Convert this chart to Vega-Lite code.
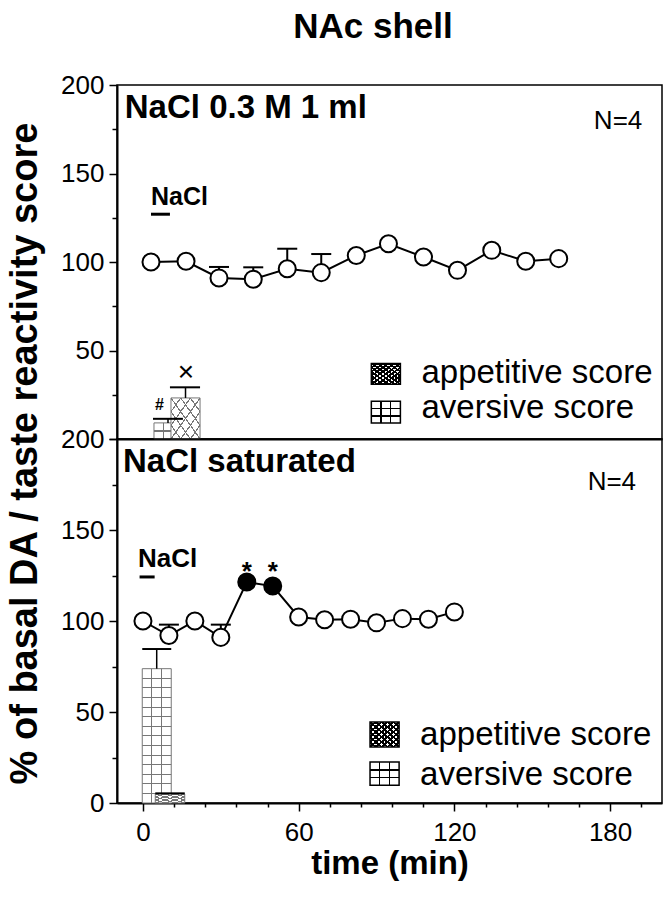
{
"$schema": "https://vega.github.io/schema/vega-lite/v6.json",
"padding": {"left": 5, "top": 10, "right": 2, "bottom": 10},
"title": {"text": "NAc shell", "fontSize": 35, "fontWeight": "bold", "font": "Liberation Sans", "color": "black", "anchor": "middle", "offset": 26, "dx": 39},
"config": {"font": "Liberation Sans", "view": {"stroke": "black", "strokeWidth": 1.5}, "axis": {"domainColor": "black", "tickColor": "black", "labelColor": "black", "titleColor": "black", "grid": false, "labelFont": "Liberation Sans", "titleFont": "Liberation Sans"}},
"datasets": {
 "t_pts": [{"x":3.1,"y":100},{"x":16.6,"y":100.4},{"x":29.3,"y":91},{"x":42.5,"y":90.3},{"x":55.6,"y":96.2},{"x":68.7,"y":94},{"x":82.2,"y":103.7},{"x":94.6,"y":110.3},{"x":108.1,"y":102.8},{"x":121.2,"y":95.3},{"x":134.4,"y":106.6},{"x":147.5,"y":100.4},{"x":160.2,"y":101.9}],
 "t_err": [{"x":29.3,"y":97.2,"y0":91},{"x":42.5,"y":97,"y0":90.3},{"x":55.6,"y":107.5,"y0":96.2},{"x":68.7,"y":104.5,"y0":94}],
 "t_av": [{"x":4.25,"x2":15.06,"y":9.1,"y2":0}],
 "t_ap": [{"x":10.8,"x2":22.0,"y":23.2,"y2":0}],
 "t_bstem": [{"x":9.65,"y":11.4,"y2":9.1},{"x":16.4,"y":29.2,"y2":23.2}],
 "t_bcap": [{"x":3.86,"x2":15.4,"y":11.4},{"x":10.4,"x2":22.0,"y":29.2}],
 "t_hash": [{"x":6.4,"y":16.5,"label":"#"}],
 "t_times": [{"x":16.6,"y":32.8,"label":"×"}],
 "t_nbar": [{"x":3.1,"x2":10.4,"y":127}],
 "t_ntxt": [{"x":3.1,"y":132.1,"label":"NaCl"}],
 "t_title": [{"x":-7,"y":181.6,"label":"NaCl 0.3 M 1 ml"}],
 "t_n": [{"x":192.4,"y":175,"label":"N=4"}],
 "t_leg_ap": [{"x":88.0,"x2":99.2,"y":42.7,"y2":30.9}],
 "t_leg_av": [{"x":88.0,"x2":99.2,"y":21.3,"y2":9.0}],
 "t_leg_txt": [{"x":107.3,"y":31.6,"label":"appetitive score"},{"x":107.3,"y":11.9,"label":"aversive score"}],
 "b_pts": [{"x":0,"y":100,"sig":"n"},{"x":10,"y":92,"sig":"n"},{"x":20,"y":100,"sig":"n"},{"x":30,"y":91,"sig":"n"},{"x":40,"y":121.4,"sig":"y"},{"x":50,"y":119.2,"sig":"y"},{"x":60,"y":102.2,"sig":"n"},{"x":70,"y":100.7,"sig":"n"},{"x":80,"y":101,"sig":"n"},{"x":90,"y":99,"sig":"n"},{"x":100,"y":101.3,"sig":"n"},{"x":110,"y":101,"sig":"n"},{"x":120,"y":105,"sig":"n"}],
 "b_err": [{"x":10,"y":98,"y0":92},{"x":30,"y":98,"y0":91}],
 "b_av": [{"x":-0.27,"x2":10.9,"y":73.8,"y2":0}],
 "b_ap": [{"x":4.75,"x2":16.1,"y":5.0,"y2":0}],
 "b_bstem": [{"x":5.3,"y":84.6,"y2":73.8}],
 "b_bcap": [{"x":-0.27,"x2":10.9,"y":84.6},{"x":4.75,"x2":16.1,"y":5.3}],
 "b_ast": [{"x":40,"y":122.5,"label":"*"},{"x":50,"y":122.5,"label":"*"}],
 "b_nbar": [{"x":-1.3,"x2":4.5,"y":124.2}],
 "b_ntxt": [{"x":-1.9,"y":129.7,"label":"NaCl"}],
 "b_title": [{"x":-7.7,"y":181.9,"label":"NaCl saturated"}],
 "b_n": [{"x":190,"y":171.8,"label":"N=4"}],
 "b_leg_ap": [{"x":87.5,"x2":98.7,"y":44.5,"y2":30.8}],
 "b_leg_av": [{"x":87.5,"x2":98.7,"y":22.5,"y2":9.7}],
 "b_leg_txt": [{"x":106.8,"y":31.7,"label":"appetitive score"},{"x":106.8,"y":10,"label":"aversive score"}]
},
"spacing": 0,
"bounds": "flush",
"vconcat": [
{
 "width": 545, "height": 354,
 "encoding": {
  "x": {"field":"x","type":"quantitative","scale":{"domain":[-10,200],"nice":false,"zero":false},"axis":{"labels":false,"ticks":false,"domainWidth":2,"title":null}},
  "y": {"field":"y","type":"quantitative","scale":{"domain":[0,200],"nice":false,"zero":false},"axis":{"values":[0,25,50,75,100,125,150,175,200],"tickSize":{"condition":{"test":"datum.value % 50 === 0","value":8},"value":5},"labelExpr":"(datum.value % 50 === 0 && datum.value > 0) ? datum.label : ''","labelFontSize":26,"labelPadding":5,"title":null,"domainWidth":2,"tickWidth":1.5,"labelOverlap":false}}
 },
 "layer": [
  {"data":{"name":"t_av"},"mark":{"type":"rect","fill":"white","stroke":"#777","strokeWidth":1},"encoding":{"x2":{"field":"x2"},"y2":{"field":"y2"}}},
  {"data":{"name":"t_av"},"mark":{"type":"rect","fill":{"gradient":"linear","x1":0,"y1":0,"x2":1,"y2":0,"stops":[{"offset":0,"color":"rgba(255,255,255,0)"},{"offset":0.315,"color":"rgba(255,255,255,0)"},{"offset":0.315,"color":"#777"},{"offset":0.351,"color":"#777"},{"offset":0.351,"color":"rgba(255,255,255,0)"},{"offset":0.649,"color":"rgba(255,255,255,0)"},{"offset":0.649,"color":"#777"},{"offset":0.685,"color":"#777"},{"offset":0.685,"color":"rgba(255,255,255,0)"},{"offset":1,"color":"rgba(255,255,255,0)"}]}},"encoding":{"x2":{"field":"x2"},"y2":{"field":"y2"}}},
  {"data":{"name":"t_av"},"mark":{"type":"rect","fill":{"gradient":"linear","x1":0,"y1":0,"x2":0,"y2":1,"stops":[{"offset":0,"color":"rgba(255,255,255,0)"},{"offset":0.46,"color":"rgba(255,255,255,0)"},{"offset":0.46,"color":"#777"},{"offset":0.54,"color":"#777"},{"offset":0.54,"color":"rgba(255,255,255,0)"},{"offset":1,"color":"rgba(255,255,255,0)"}]}},"encoding":{"x2":{"field":"x2"},"y2":{"field":"y2"}}},
  {"data":{"name":"t_ap"},"mark":{"type":"rect","fill":"white","stroke":"#777","strokeWidth":1},"encoding":{"x2":{"field":"x2"},"y2":{"field":"y2"}}},
  {"data":{"name":"t_ap"},"mark":{"type":"rect","fill":{"gradient":"linear","x1":0,"y1":0,"x2":1,"y2":1,"stops":[{"offset":0,"color":"rgba(255,255,255,0)"},{"offset":0.155,"color":"rgba(255,255,255,0)"},{"offset":0.155,"color":"#777"},{"offset":0.179,"color":"#777"},{"offset":0.179,"color":"rgba(255,255,255,0)"},{"offset":0.321,"color":"rgba(255,255,255,0)"},{"offset":0.321,"color":"#777"},{"offset":0.345,"color":"#777"},{"offset":0.345,"color":"rgba(255,255,255,0)"},{"offset":0.488,"color":"rgba(255,255,255,0)"},{"offset":0.488,"color":"#777"},{"offset":0.512,"color":"#777"},{"offset":0.512,"color":"rgba(255,255,255,0)"},{"offset":0.655,"color":"rgba(255,255,255,0)"},{"offset":0.655,"color":"#777"},{"offset":0.679,"color":"#777"},{"offset":0.679,"color":"rgba(255,255,255,0)"},{"offset":0.821,"color":"rgba(255,255,255,0)"},{"offset":0.821,"color":"#777"},{"offset":0.845,"color":"#777"},{"offset":0.845,"color":"rgba(255,255,255,0)"},{"offset":1,"color":"rgba(255,255,255,0)"}]}},"encoding":{"x2":{"field":"x2"},"y2":{"field":"y2"}}},
  {"data":{"name":"t_ap"},"mark":{"type":"rect","fill":{"gradient":"linear","x1":1,"y1":0,"x2":0,"y2":1,"stops":[{"offset":0,"color":"rgba(255,255,255,0)"},{"offset":0.155,"color":"rgba(255,255,255,0)"},{"offset":0.155,"color":"#777"},{"offset":0.179,"color":"#777"},{"offset":0.179,"color":"rgba(255,255,255,0)"},{"offset":0.321,"color":"rgba(255,255,255,0)"},{"offset":0.321,"color":"#777"},{"offset":0.345,"color":"#777"},{"offset":0.345,"color":"rgba(255,255,255,0)"},{"offset":0.488,"color":"rgba(255,255,255,0)"},{"offset":0.488,"color":"#777"},{"offset":0.512,"color":"#777"},{"offset":0.512,"color":"rgba(255,255,255,0)"},{"offset":0.655,"color":"rgba(255,255,255,0)"},{"offset":0.655,"color":"#777"},{"offset":0.679,"color":"#777"},{"offset":0.679,"color":"rgba(255,255,255,0)"},{"offset":0.821,"color":"rgba(255,255,255,0)"},{"offset":0.821,"color":"#777"},{"offset":0.845,"color":"#777"},{"offset":0.845,"color":"rgba(255,255,255,0)"},{"offset":1,"color":"rgba(255,255,255,0)"}]}},"encoding":{"x2":{"field":"x2"},"y2":{"field":"y2"}}},
  {"data":{"name":"t_bstem"},"mark":{"type":"rule","color":"black","strokeWidth":1.5},"encoding":{"y2":{"field":"y2"}}},
  {"data":{"name":"t_bcap"},"mark":{"type":"rule","color":"black","strokeWidth":2},"encoding":{"x2":{"field":"x2"}}},
  {"data":{"name":"t_hash"},"mark":{"type":"text","align":"center","baseline":"alphabetic","fontSize":16,"fontWeight":"bold","font":"Liberation Sans","color":"black"},"encoding":{"text":{"field":"label"}}},
  {"data":{"name":"t_times"},"mark":{"type":"text","align":"center","baseline":"alphabetic","fontSize":28,"font":"Liberation Sans","color":"black"},"encoding":{"text":{"field":"label"}}},
  {"data":{"name":"t_err"},"mark":{"type":"rule","color":"black","strokeWidth":2},"encoding":{"y2":{"field":"y0"}}},
  {"data":{"name":"t_err"},"mark":{"type":"tick","orient":"horizontal","size":20,"thickness":2,"color":"black","opacity":1}},
  {"data":{"name":"t_pts"},"mark":{"type":"line","color":"black","strokeWidth":2}},
  {"data":{"name":"t_pts"},"mark":{"type":"point","shape":"circle","filled":true,"fill":"white","stroke":"black","strokeWidth":2,"size":290,"opacity":1}},
  {"data":{"name":"t_nbar"},"mark":{"type":"rule","color":"black","strokeWidth":3},"encoding":{"x2":{"field":"x2"}}},
  {"data":{"name":"t_ntxt"},"mark":{"type":"text","align":"left","baseline":"alphabetic","fontSize":25,"fontWeight":"bold","font":"Liberation Sans","color":"black"},"encoding":{"text":{"field":"label"}}},
  {"data":{"name":"t_title"},"mark":{"type":"text","align":"left","baseline":"alphabetic","fontSize":33,"fontWeight":"bold","font":"Liberation Sans","color":"black"},"encoding":{"text":{"field":"label"}}},
  {"data":{"name":"t_n"},"mark":{"type":"text","align":"right","baseline":"alphabetic","fontSize":26,"font":"Liberation Sans","color":"black"},"encoding":{"text":{"field":"label"}}},
  {"data":{"name":"t_leg_ap"},"mark":{"type":"rect","fill":"white","stroke":"black","strokeWidth":1.5},"encoding":{"x2":{"field":"x2"},"y2":{"field":"y2"}}},
  {"data":{"name":"t_leg_ap"},"mark":{"type":"rect","fill":{"gradient":"linear","x1":0,"y1":0,"x2":1,"y2":1,"stops":[{"offset":0,"color":"rgba(255,255,255,0)"},{"offset":0.075,"color":"rgba(255,255,255,0)"},{"offset":0.075,"color":"black"},{"offset":0.125,"color":"black"},{"offset":0.125,"color":"rgba(255,255,255,0)"},{"offset":0.175,"color":"rgba(255,255,255,0)"},{"offset":0.175,"color":"black"},{"offset":0.225,"color":"black"},{"offset":0.225,"color":"rgba(255,255,255,0)"},{"offset":0.275,"color":"rgba(255,255,255,0)"},{"offset":0.275,"color":"black"},{"offset":0.325,"color":"black"},{"offset":0.325,"color":"rgba(255,255,255,0)"},{"offset":0.375,"color":"rgba(255,255,255,0)"},{"offset":0.375,"color":"black"},{"offset":0.425,"color":"black"},{"offset":0.425,"color":"rgba(255,255,255,0)"},{"offset":0.475,"color":"rgba(255,255,255,0)"},{"offset":0.475,"color":"black"},{"offset":0.525,"color":"black"},{"offset":0.525,"color":"rgba(255,255,255,0)"},{"offset":0.575,"color":"rgba(255,255,255,0)"},{"offset":0.575,"color":"black"},{"offset":0.625,"color":"black"},{"offset":0.625,"color":"rgba(255,255,255,0)"},{"offset":0.675,"color":"rgba(255,255,255,0)"},{"offset":0.675,"color":"black"},{"offset":0.725,"color":"black"},{"offset":0.725,"color":"rgba(255,255,255,0)"},{"offset":0.775,"color":"rgba(255,255,255,0)"},{"offset":0.775,"color":"black"},{"offset":0.825,"color":"black"},{"offset":0.825,"color":"rgba(255,255,255,0)"},{"offset":0.875,"color":"rgba(255,255,255,0)"},{"offset":0.875,"color":"black"},{"offset":0.925,"color":"black"},{"offset":0.925,"color":"rgba(255,255,255,0)"},{"offset":1,"color":"rgba(255,255,255,0)"}]}},"encoding":{"x2":{"field":"x2"},"y2":{"field":"y2"}}},
  {"data":{"name":"t_leg_ap"},"mark":{"type":"rect","fill":{"gradient":"linear","x1":1,"y1":0,"x2":0,"y2":1,"stops":[{"offset":0,"color":"rgba(255,255,255,0)"},{"offset":0.075,"color":"rgba(255,255,255,0)"},{"offset":0.075,"color":"black"},{"offset":0.125,"color":"black"},{"offset":0.125,"color":"rgba(255,255,255,0)"},{"offset":0.175,"color":"rgba(255,255,255,0)"},{"offset":0.175,"color":"black"},{"offset":0.225,"color":"black"},{"offset":0.225,"color":"rgba(255,255,255,0)"},{"offset":0.275,"color":"rgba(255,255,255,0)"},{"offset":0.275,"color":"black"},{"offset":0.325,"color":"black"},{"offset":0.325,"color":"rgba(255,255,255,0)"},{"offset":0.375,"color":"rgba(255,255,255,0)"},{"offset":0.375,"color":"black"},{"offset":0.425,"color":"black"},{"offset":0.425,"color":"rgba(255,255,255,0)"},{"offset":0.475,"color":"rgba(255,255,255,0)"},{"offset":0.475,"color":"black"},{"offset":0.525,"color":"black"},{"offset":0.525,"color":"rgba(255,255,255,0)"},{"offset":0.575,"color":"rgba(255,255,255,0)"},{"offset":0.575,"color":"black"},{"offset":0.625,"color":"black"},{"offset":0.625,"color":"rgba(255,255,255,0)"},{"offset":0.675,"color":"rgba(255,255,255,0)"},{"offset":0.675,"color":"black"},{"offset":0.725,"color":"black"},{"offset":0.725,"color":"rgba(255,255,255,0)"},{"offset":0.775,"color":"rgba(255,255,255,0)"},{"offset":0.775,"color":"black"},{"offset":0.825,"color":"black"},{"offset":0.825,"color":"rgba(255,255,255,0)"},{"offset":0.875,"color":"rgba(255,255,255,0)"},{"offset":0.875,"color":"black"},{"offset":0.925,"color":"black"},{"offset":0.925,"color":"rgba(255,255,255,0)"},{"offset":1,"color":"rgba(255,255,255,0)"}]}},"encoding":{"x2":{"field":"x2"},"y2":{"field":"y2"}}},
  {"data":{"name":"t_leg_av"},"mark":{"type":"rect","fill":"white","stroke":"black","strokeWidth":1.5},"encoding":{"x2":{"field":"x2"},"y2":{"field":"y2"}}},
  {"data":{"name":"t_leg_av"},"mark":{"type":"rect","fill":{"gradient":"linear","x1":0,"y1":0,"x2":1,"y2":0,"stops":[{"offset":0,"color":"rgba(255,255,255,0)"},{"offset":0.307,"color":"rgba(255,255,255,0)"},{"offset":0.307,"color":"black"},{"offset":0.359,"color":"black"},{"offset":0.359,"color":"rgba(255,255,255,0)"},{"offset":0.641,"color":"rgba(255,255,255,0)"},{"offset":0.641,"color":"black"},{"offset":0.693,"color":"black"},{"offset":0.693,"color":"rgba(255,255,255,0)"},{"offset":1,"color":"rgba(255,255,255,0)"}]}},"encoding":{"x2":{"field":"x2"},"y2":{"field":"y2"}}},
  {"data":{"name":"t_leg_av"},"mark":{"type":"rect","fill":{"gradient":"linear","x1":0,"y1":0,"x2":0,"y2":1,"stops":[{"offset":0,"color":"rgba(255,255,255,0)"},{"offset":0.297,"color":"rgba(255,255,255,0)"},{"offset":0.297,"color":"black"},{"offset":0.369,"color":"black"},{"offset":0.369,"color":"rgba(255,255,255,0)"},{"offset":0.631,"color":"rgba(255,255,255,0)"},{"offset":0.631,"color":"black"},{"offset":0.703,"color":"black"},{"offset":0.703,"color":"rgba(255,255,255,0)"},{"offset":1,"color":"rgba(255,255,255,0)"}]}},"encoding":{"x2":{"field":"x2"},"y2":{"field":"y2"}}},
  {"data":{"name":"t_leg_txt"},"mark":{"type":"text","align":"left","baseline":"alphabetic","fontSize":33,"font":"Liberation Sans","color":"black"},"encoding":{"text":{"field":"label"}}}
 ]
},
{
 "width": 545, "height": 364,
 "encoding": {
  "x": {"field":"x","type":"quantitative","scale":{"domain":[-10,200],"nice":false,"zero":false},"axis":{"values":[0,12,24,36,48,60,72,84,96,108,120,132,144,156,168,180,192],"tickSize":{"condition":{"test":"datum.value % 60 === 0","value":8},"value":4},"labelExpr":"datum.value % 60 === 0 ? datum.label : ''","labelFontSize":26,"labelPadding":8,"labelOverlap":false,"title":"time (min)","titleFontSize":33,"titleFontWeight":"bold","titlePadding":2,"domainWidth":2,"tickWidth":1.5}},
  "y": {"field":"y","type":"quantitative","scale":{"domain":[0,200],"nice":false,"zero":false},"axis":{"values":[0,25,50,75,100,125,150,175,200],"tickSize":{"condition":{"test":"datum.value % 50 === 0","value":8},"value":5},"labelExpr":"datum.value % 50 === 0 ? datum.label : ''","labelFontSize":26,"labelPadding":5,"labelOverlap":false,"domainWidth":2,"tickWidth":1.5,"title":"% of basal DA /  taste reactivity score","titleFontSize":38,"titleFontWeight":"bold","titleAngle":-90,"titleAlign":"center","titleBaseline":"alphabetic","titleX":-81,"titleY":14}}
 },
 "layer": [
  {"data":{"name":"b_av"},"mark":{"type":"rect","fill":"white","stroke":"#777","strokeWidth":1},"encoding":{"x2":{"field":"x2"},"y2":{"field":"y2"}}},
  {"data":{"name":"b_av"},"mark":{"type":"rect","fill":{"gradient":"linear","x1":0,"y1":0,"x2":1,"y2":0,"stops":[{"offset":0,"color":"rgba(255,255,255,0)"},{"offset":0.315,"color":"rgba(255,255,255,0)"},{"offset":0.315,"color":"#777"},{"offset":0.351,"color":"#777"},{"offset":0.351,"color":"rgba(255,255,255,0)"},{"offset":0.649,"color":"rgba(255,255,255,0)"},{"offset":0.649,"color":"#777"},{"offset":0.685,"color":"#777"},{"offset":0.685,"color":"rgba(255,255,255,0)"},{"offset":1,"color":"rgba(255,255,255,0)"}]}},"encoding":{"x2":{"field":"x2"},"y2":{"field":"y2"}}},
  {"data":{"name":"b_av"},"mark":{"type":"rect","fill":{"gradient":"linear","x1":0,"y1":0,"x2":0,"y2":1,"stops":[{"offset":0,"color":"rgba(255,255,255,0)"},{"offset":0.0677,"color":"rgba(255,255,255,0)"},{"offset":0.0677,"color":"#777"},{"offset":0.0751,"color":"#777"},{"offset":0.0751,"color":"rgba(255,255,255,0)"},{"offset":0.1392,"color":"rgba(255,255,255,0)"},{"offset":0.1392,"color":"#777"},{"offset":0.1466,"color":"#777"},{"offset":0.1466,"color":"rgba(255,255,255,0)"},{"offset":0.2106,"color":"rgba(255,255,255,0)"},{"offset":0.2106,"color":"#777"},{"offset":0.218,"color":"#777"},{"offset":0.218,"color":"rgba(255,255,255,0)"},{"offset":0.282,"color":"rgba(255,255,255,0)"},{"offset":0.282,"color":"#777"},{"offset":0.2894,"color":"#777"},{"offset":0.2894,"color":"rgba(255,255,255,0)"},{"offset":0.3534,"color":"rgba(255,255,255,0)"},{"offset":0.3534,"color":"#777"},{"offset":0.3608,"color":"#777"},{"offset":0.3608,"color":"rgba(255,255,255,0)"},{"offset":0.4249,"color":"rgba(255,255,255,0)"},{"offset":0.4249,"color":"#777"},{"offset":0.4323,"color":"#777"},{"offset":0.4323,"color":"rgba(255,255,255,0)"},{"offset":0.4963,"color":"rgba(255,255,255,0)"},{"offset":0.4963,"color":"#777"},{"offset":0.5037,"color":"#777"},{"offset":0.5037,"color":"rgba(255,255,255,0)"},{"offset":0.5677,"color":"rgba(255,255,255,0)"},{"offset":0.5677,"color":"#777"},{"offset":0.5751,"color":"#777"},{"offset":0.5751,"color":"rgba(255,255,255,0)"},{"offset":0.6392,"color":"rgba(255,255,255,0)"},{"offset":0.6392,"color":"#777"},{"offset":0.6466,"color":"#777"},{"offset":0.6466,"color":"rgba(255,255,255,0)"},{"offset":0.7106,"color":"rgba(255,255,255,0)"},{"offset":0.7106,"color":"#777"},{"offset":0.718,"color":"#777"},{"offset":0.718,"color":"rgba(255,255,255,0)"},{"offset":0.782,"color":"rgba(255,255,255,0)"},{"offset":0.782,"color":"#777"},{"offset":0.7894,"color":"#777"},{"offset":0.7894,"color":"rgba(255,255,255,0)"},{"offset":0.8534,"color":"rgba(255,255,255,0)"},{"offset":0.8534,"color":"#777"},{"offset":0.8608,"color":"#777"},{"offset":0.8608,"color":"rgba(255,255,255,0)"},{"offset":0.9249,"color":"rgba(255,255,255,0)"},{"offset":0.9249,"color":"#777"},{"offset":0.9323,"color":"#777"},{"offset":0.9323,"color":"rgba(255,255,255,0)"},{"offset":1,"color":"rgba(255,255,255,0)"}]}},"encoding":{"x2":{"field":"x2"},"y2":{"field":"y2"}}},
  {"data":{"name":"b_ap"},"mark":{"type":"rect","fill":"white","stroke":"#777","strokeWidth":1},"encoding":{"x2":{"field":"x2"},"y2":{"field":"y2"}}},
  {"data":{"name":"b_ap"},"mark":{"type":"rect","fill":{"gradient":"linear","x1":0,"y1":0,"x2":1,"y2":1,"stops":[{"offset":0,"color":"rgba(255,255,255,0)"},{"offset":0.137,"color":"rgba(255,255,255,0)"},{"offset":0.137,"color":"#777"},{"offset":0.197,"color":"#777"},{"offset":0.197,"color":"rgba(255,255,255,0)"},{"offset":0.303,"color":"rgba(255,255,255,0)"},{"offset":0.303,"color":"#777"},{"offset":0.363,"color":"#777"},{"offset":0.363,"color":"rgba(255,255,255,0)"},{"offset":0.47,"color":"rgba(255,255,255,0)"},{"offset":0.47,"color":"#777"},{"offset":0.53,"color":"#777"},{"offset":0.53,"color":"rgba(255,255,255,0)"},{"offset":0.637,"color":"rgba(255,255,255,0)"},{"offset":0.637,"color":"#777"},{"offset":0.697,"color":"#777"},{"offset":0.697,"color":"rgba(255,255,255,0)"},{"offset":0.803,"color":"rgba(255,255,255,0)"},{"offset":0.803,"color":"#777"},{"offset":0.863,"color":"#777"},{"offset":0.863,"color":"rgba(255,255,255,0)"},{"offset":1,"color":"rgba(255,255,255,0)"}]}},"encoding":{"x2":{"field":"x2"},"y2":{"field":"y2"}}},
  {"data":{"name":"b_ap"},"mark":{"type":"rect","fill":{"gradient":"linear","x1":1,"y1":0,"x2":0,"y2":1,"stops":[{"offset":0,"color":"rgba(255,255,255,0)"},{"offset":0.137,"color":"rgba(255,255,255,0)"},{"offset":0.137,"color":"#777"},{"offset":0.197,"color":"#777"},{"offset":0.197,"color":"rgba(255,255,255,0)"},{"offset":0.303,"color":"rgba(255,255,255,0)"},{"offset":0.303,"color":"#777"},{"offset":0.363,"color":"#777"},{"offset":0.363,"color":"rgba(255,255,255,0)"},{"offset":0.47,"color":"rgba(255,255,255,0)"},{"offset":0.47,"color":"#777"},{"offset":0.53,"color":"#777"},{"offset":0.53,"color":"rgba(255,255,255,0)"},{"offset":0.637,"color":"rgba(255,255,255,0)"},{"offset":0.637,"color":"#777"},{"offset":0.697,"color":"#777"},{"offset":0.697,"color":"rgba(255,255,255,0)"},{"offset":0.803,"color":"rgba(255,255,255,0)"},{"offset":0.803,"color":"#777"},{"offset":0.863,"color":"#777"},{"offset":0.863,"color":"rgba(255,255,255,0)"},{"offset":1,"color":"rgba(255,255,255,0)"}]}},"encoding":{"x2":{"field":"x2"},"y2":{"field":"y2"}}},
  {"data":{"name":"b_bstem"},"mark":{"type":"rule","color":"black","strokeWidth":1.5},"encoding":{"y2":{"field":"y2"}}},
  {"data":{"name":"b_bcap"},"mark":{"type":"rule","color":"black","strokeWidth":2},"encoding":{"x2":{"field":"x2"}}},
  {"data":{"name":"b_err"},"mark":{"type":"rule","color":"black","strokeWidth":2},"encoding":{"y2":{"field":"y0"}}},
  {"data":{"name":"b_err"},"mark":{"type":"tick","orient":"horizontal","size":20,"thickness":2,"color":"black","opacity":1}},
  {"data":{"name":"b_pts"},"mark":{"type":"line","color":"black","strokeWidth":2}},
  {"data":{"name":"b_pts"},"mark":{"type":"point","shape":"circle","filled":true,"stroke":"black","strokeWidth":2,"size":290,"opacity":1},"encoding":{"fill":{"field":"sig","type":"nominal","scale":{"domain":["n","y"],"range":["white","black"]},"legend":null}}},
  {"data":{"name":"b_ast"},"mark":{"type":"text","align":"center","baseline":"alphabetic","fontSize":26,"fontWeight":"bold","font":"Liberation Sans","color":"black"},"encoding":{"text":{"field":"label"}}},
  {"data":{"name":"b_nbar"},"mark":{"type":"rule","color":"black","strokeWidth":3},"encoding":{"x2":{"field":"x2"}}},
  {"data":{"name":"b_ntxt"},"mark":{"type":"text","align":"left","baseline":"alphabetic","fontSize":26,"fontWeight":"bold","font":"Liberation Sans","color":"black"},"encoding":{"text":{"field":"label"}}},
  {"data":{"name":"b_title"},"mark":{"type":"text","align":"left","baseline":"alphabetic","fontSize":33,"fontWeight":"bold","font":"Liberation Sans","color":"black"},"encoding":{"text":{"field":"label"}}},
  {"data":{"name":"b_n"},"mark":{"type":"text","align":"right","baseline":"alphabetic","fontSize":26,"font":"Liberation Sans","color":"black"},"encoding":{"text":{"field":"label"}}},
  {"data":{"name":"b_leg_ap"},"mark":{"type":"rect","fill":"white","stroke":"black","strokeWidth":1.5},"encoding":{"x2":{"field":"x2"},"y2":{"field":"y2"}}},
  {"data":{"name":"b_leg_ap"},"mark":{"type":"rect","fill":{"gradient":"linear","x1":0,"y1":0,"x2":1,"y2":1,"stops":[{"offset":0,"color":"rgba(255,255,255,0)"},{"offset":0.075,"color":"rgba(255,255,255,0)"},{"offset":0.075,"color":"black"},{"offset":0.125,"color":"black"},{"offset":0.125,"color":"rgba(255,255,255,0)"},{"offset":0.175,"color":"rgba(255,255,255,0)"},{"offset":0.175,"color":"black"},{"offset":0.225,"color":"black"},{"offset":0.225,"color":"rgba(255,255,255,0)"},{"offset":0.275,"color":"rgba(255,255,255,0)"},{"offset":0.275,"color":"black"},{"offset":0.325,"color":"black"},{"offset":0.325,"color":"rgba(255,255,255,0)"},{"offset":0.375,"color":"rgba(255,255,255,0)"},{"offset":0.375,"color":"black"},{"offset":0.425,"color":"black"},{"offset":0.425,"color":"rgba(255,255,255,0)"},{"offset":0.475,"color":"rgba(255,255,255,0)"},{"offset":0.475,"color":"black"},{"offset":0.525,"color":"black"},{"offset":0.525,"color":"rgba(255,255,255,0)"},{"offset":0.575,"color":"rgba(255,255,255,0)"},{"offset":0.575,"color":"black"},{"offset":0.625,"color":"black"},{"offset":0.625,"color":"rgba(255,255,255,0)"},{"offset":0.675,"color":"rgba(255,255,255,0)"},{"offset":0.675,"color":"black"},{"offset":0.725,"color":"black"},{"offset":0.725,"color":"rgba(255,255,255,0)"},{"offset":0.775,"color":"rgba(255,255,255,0)"},{"offset":0.775,"color":"black"},{"offset":0.825,"color":"black"},{"offset":0.825,"color":"rgba(255,255,255,0)"},{"offset":0.875,"color":"rgba(255,255,255,0)"},{"offset":0.875,"color":"black"},{"offset":0.925,"color":"black"},{"offset":0.925,"color":"rgba(255,255,255,0)"},{"offset":1,"color":"rgba(255,255,255,0)"}]}},"encoding":{"x2":{"field":"x2"},"y2":{"field":"y2"}}},
  {"data":{"name":"b_leg_ap"},"mark":{"type":"rect","fill":{"gradient":"linear","x1":1,"y1":0,"x2":0,"y2":1,"stops":[{"offset":0,"color":"rgba(255,255,255,0)"},{"offset":0.075,"color":"rgba(255,255,255,0)"},{"offset":0.075,"color":"black"},{"offset":0.125,"color":"black"},{"offset":0.125,"color":"rgba(255,255,255,0)"},{"offset":0.175,"color":"rgba(255,255,255,0)"},{"offset":0.175,"color":"black"},{"offset":0.225,"color":"black"},{"offset":0.225,"color":"rgba(255,255,255,0)"},{"offset":0.275,"color":"rgba(255,255,255,0)"},{"offset":0.275,"color":"black"},{"offset":0.325,"color":"black"},{"offset":0.325,"color":"rgba(255,255,255,0)"},{"offset":0.375,"color":"rgba(255,255,255,0)"},{"offset":0.375,"color":"black"},{"offset":0.425,"color":"black"},{"offset":0.425,"color":"rgba(255,255,255,0)"},{"offset":0.475,"color":"rgba(255,255,255,0)"},{"offset":0.475,"color":"black"},{"offset":0.525,"color":"black"},{"offset":0.525,"color":"rgba(255,255,255,0)"},{"offset":0.575,"color":"rgba(255,255,255,0)"},{"offset":0.575,"color":"black"},{"offset":0.625,"color":"black"},{"offset":0.625,"color":"rgba(255,255,255,0)"},{"offset":0.675,"color":"rgba(255,255,255,0)"},{"offset":0.675,"color":"black"},{"offset":0.725,"color":"black"},{"offset":0.725,"color":"rgba(255,255,255,0)"},{"offset":0.775,"color":"rgba(255,255,255,0)"},{"offset":0.775,"color":"black"},{"offset":0.825,"color":"black"},{"offset":0.825,"color":"rgba(255,255,255,0)"},{"offset":0.875,"color":"rgba(255,255,255,0)"},{"offset":0.875,"color":"black"},{"offset":0.925,"color":"black"},{"offset":0.925,"color":"rgba(255,255,255,0)"},{"offset":1,"color":"rgba(255,255,255,0)"}]}},"encoding":{"x2":{"field":"x2"},"y2":{"field":"y2"}}},
  {"data":{"name":"b_leg_av"},"mark":{"type":"rect","fill":"white","stroke":"black","strokeWidth":1.5},"encoding":{"x2":{"field":"x2"},"y2":{"field":"y2"}}},
  {"data":{"name":"b_leg_av"},"mark":{"type":"rect","fill":{"gradient":"linear","x1":0,"y1":0,"x2":1,"y2":0,"stops":[{"offset":0,"color":"rgba(255,255,255,0)"},{"offset":0.307,"color":"rgba(255,255,255,0)"},{"offset":0.307,"color":"black"},{"offset":0.359,"color":"black"},{"offset":0.359,"color":"rgba(255,255,255,0)"},{"offset":0.641,"color":"rgba(255,255,255,0)"},{"offset":0.641,"color":"black"},{"offset":0.693,"color":"black"},{"offset":0.693,"color":"rgba(255,255,255,0)"},{"offset":1,"color":"rgba(255,255,255,0)"}]}},"encoding":{"x2":{"field":"x2"},"y2":{"field":"y2"}}},
  {"data":{"name":"b_leg_av"},"mark":{"type":"rect","fill":{"gradient":"linear","x1":0,"y1":0,"x2":0,"y2":1,"stops":[{"offset":0,"color":"rgba(255,255,255,0)"},{"offset":0.297,"color":"rgba(255,255,255,0)"},{"offset":0.297,"color":"black"},{"offset":0.369,"color":"black"},{"offset":0.369,"color":"rgba(255,255,255,0)"},{"offset":0.631,"color":"rgba(255,255,255,0)"},{"offset":0.631,"color":"black"},{"offset":0.703,"color":"black"},{"offset":0.703,"color":"rgba(255,255,255,0)"},{"offset":1,"color":"rgba(255,255,255,0)"}]}},"encoding":{"x2":{"field":"x2"},"y2":{"field":"y2"}}},
  {"data":{"name":"b_leg_txt"},"mark":{"type":"text","align":"left","baseline":"alphabetic","fontSize":33,"font":"Liberation Sans","color":"black"},"encoding":{"text":{"field":"label"}}}
 ]
}
]
}
